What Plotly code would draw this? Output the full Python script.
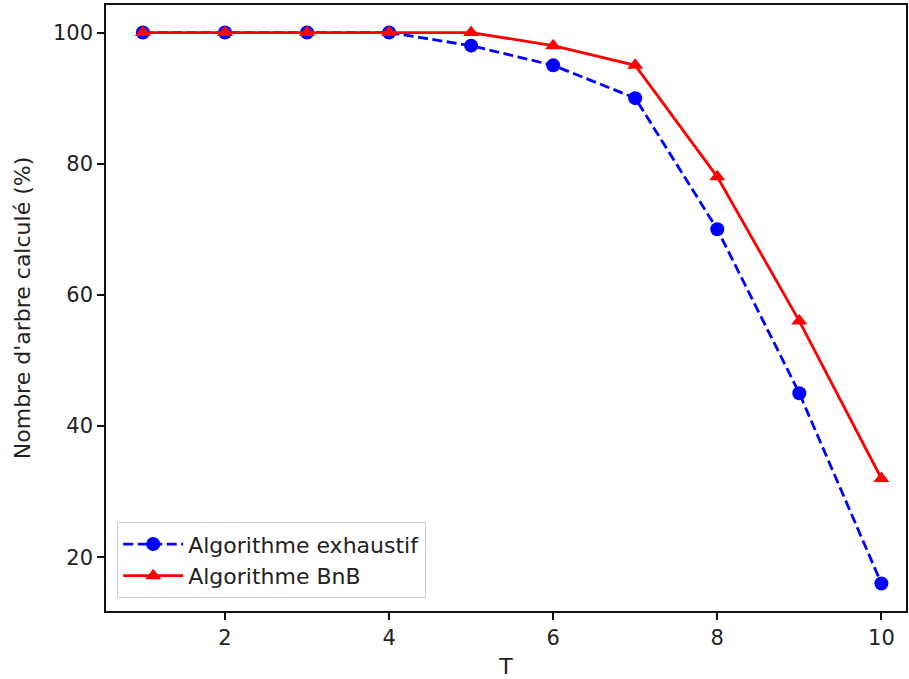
import plotly.graph_objects as go

T = [1, 2, 3, 4, 5, 6, 7, 8, 9, 10]
exhaustif = [100, 100, 100, 100, 98, 95, 90, 70, 45, 16]
bnb = [100, 100, 100, 100, 100, 98, 95, 78, 56, 32]
x_ticks = [2, 4, 6, 8, 10]
y_ticks = [20, 40, 60, 80, 100]

fig = go.Figure()
fig.add_trace(go.Scatter(x=T, y=exhaustif, mode="lines+markers", name="Algorithme exhaustif",
                         line=dict(color="blue", dash="10px,4.5px", width=2.8),
                         marker=dict(symbol="circle", size=14, color="blue")))
fig.add_trace(go.Scatter(x=T, y=bnb, mode="lines+markers", name="Algorithme BnB",
                         line=dict(color="red", width=2.8),
                         marker=dict(symbol="triangle-up", size=14, color="red")))

axis_common = dict(showgrid=False, zeroline=False, showline=True, linecolor="#111", linewidth=1.6,
                   mirror=True, ticks="outside", ticklen=7, tickwidth=1.6, tickcolor="#111",
                   tickfont=dict(size=21, color="#222"))
fig.update_layout(
    width=909, height=679,
    margin=dict(l=106, r=1, t=5, b=68),
    paper_bgcolor="white", plot_bgcolor="white",
    font=dict(family="DejaVu Sans", size=22, color="#222"),
    xaxis=dict(range=[0.55, 10.30], tickvals=x_ticks, title=dict(text="T", standoff=12, font=dict(size=22)), **axis_common),
    yaxis=dict(range=[11.8, 104.2], tickvals=y_ticks, title=dict(text="Nombre d'arbre calculé (%)", standoff=16, font=dict(size=22)), **axis_common),
    legend=dict(x=0.014, y=0.021, xanchor="left", yanchor="bottom", bgcolor="rgba(255,255,255,0.8)",
                bordercolor="#ccc", borderwidth=1, itemwidth=60, font=dict(size=22, color="#222")),
    showlegend=True,
)
fig.write_html("out.html", config={"displayModeBar": False},
               post_script="document.body.style.margin='0';document.body.style.overflow='hidden';")
